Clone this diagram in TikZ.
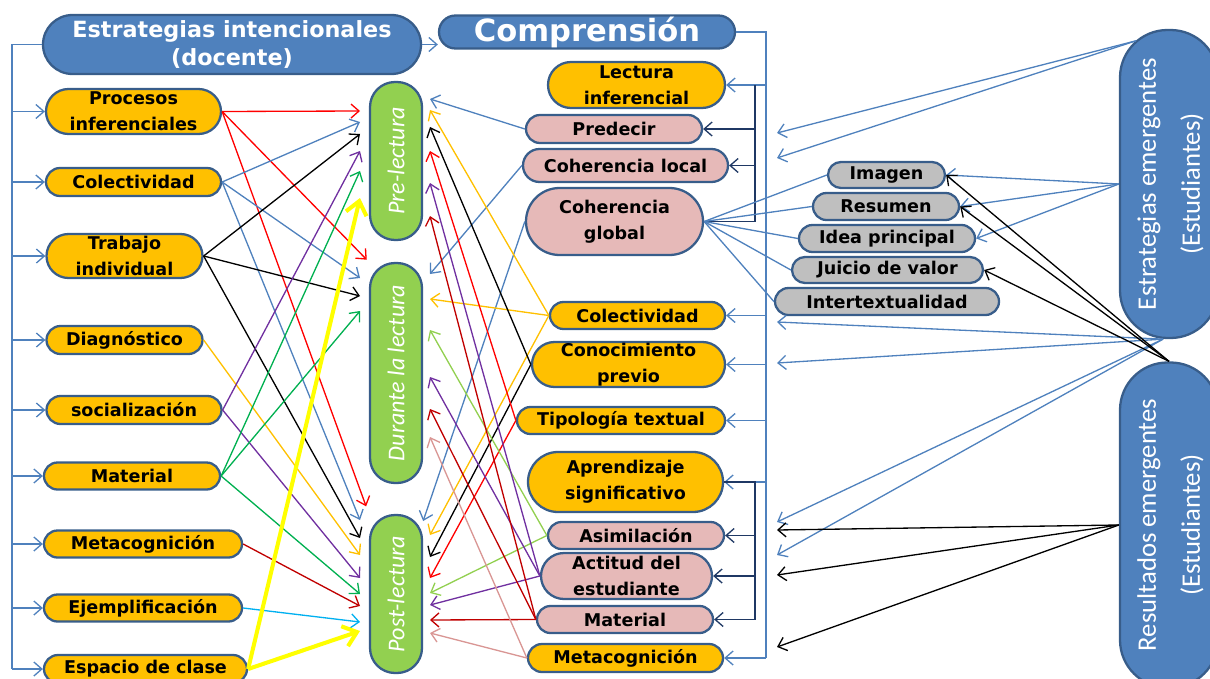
\documentclass[tikz,border=0pt]{standalone}
\usepackage{fontspec}
\setmainfont{DejaVu Sans}
\newfontfamily\carl{Carlito}
\usepackage{graphicx}
\usetikzlibrary{positioning, arrows.meta, shapes.misc, calc}

\definecolor{azul}{HTML}{4F81BD}
\definecolor{borde}{HTML}{385D8A}
\definecolor{amar}{HTML}{FFC000}
\definecolor{rosa}{HTML}{E6B9B8}
\definecolor{gris}{HTML}{BFBFBF}
\definecolor{verde}{HTML}{92D050}
\definecolor{marino}{HTML}{1F3864}
\definecolor{morado}{HTML}{7030A0}
\definecolor{verdeo}{HTML}{00B050}
\definecolor{rojoo}{HTML}{C00000}
\definecolor{celeste}{HTML}{00B0F0}
\definecolor{palo}{HTML}{D99694}
\definecolor{amarillo}{HTML}{FFFF00}

\begin{document}
\begin{tikzpicture}[
    x=0.02cm, y=-0.02cm,
    sz/.style 2 args={minimum width=#1*0.02cm, minimum height=#2*0.02cm},
    pill/.style={rounded rectangle, draw=borde, line width=1.3pt, inner sep=0pt,
      align=center, font=\bfseries\fontsize{10}{14.8}\selectfont},
    yel/.style={pill, fill=amar},
    pnk/.style={pill, fill=rosa},
    gry/.style={pill, fill=gris},
    hdr/.style={pill, fill=azul, text=white},
    fase/.style={draw=borde, line width=1.3pt, fill=verde, rounded corners=0.5cm,
      inner sep=0pt, text=white, font=\carl\itshape\fontsize{13.7}{16}\selectfont},
    emer/.style={draw=borde, line width=1.3pt, fill=azul, rounded corners=0.95cm,
      inner sep=0pt, text=white, font=\carl\fontsize{15.2}{25}\selectfont},
    arr/.style={-{Straight Barb[length=1.6mm,width=2.8mm]}, line width=0.75pt},
    yarr/.style={-{Straight Barb[length=2.6mm,width=4.2mm]}, line width=2.3pt, amarillo},
    bl/.style={azul, line width=0.75pt},
    nav/.style={marino, line width=0.9pt}
  ]
    \useasboundingbox (0,0) rectangle (1210,679);

    % encabezados
    \node[hdr, sz={378}{59}, font=\bfseries\fontsize{12.7}{16.5}\selectfont] (tit) at (232,44.5) {Estrategias intencionales\\(docente)};
    \node[hdr, sz={296}{33}, font=\bfseries\fontsize{17.4}{20}\selectfont] (comp) at (587,32) {Comprensión};

    % estrategias del docente
    \node[yel, sz={175}{45}] (pi) at (133.5,111.5) {Procesos\\inferenciales};
    \node[yel, sz={175}{28}] (col) at (133.5,182) {Colectividad};
    \node[yel, sz={156}{44}] (tra) at (124.5,256) {Trabajo\\individual};
    \node[yel, sz={156}{28}] (dia) at (124.5,340) {Diagnóstico};
    \node[yel, sz={175}{28}] (soc) at (134,410) {socialización};
    \node[yel, sz={176}{27}] (mat) at (132,476) {Material};
    \node[yel, sz={198}{27}] (met) at (143,544) {Metacognición};
    \node[yel, sz={198}{27}] (eje) at (143,608) {Ejemplificación};
    \node[yel, sz={203}{28}] (esp) at (145.5,669) {Espacio de clase};

    % fases
    \node[fase, sz={52}{158}] (pre) at (396,161) {\rotatebox{90}{Pre-lectura}};
    \node[fase, sz={52}{220}] (dur) at (396,373) {\rotatebox{90}{Durante la lectura}};
    \node[fase, sz={52}{158}] (post) at (396,594) {\rotatebox{90}{Post-lectura}};

    % comprension
    \node[yel, sz={177}{46}] (li) at (636.5,85) {Lectura\\inferencial};
    \node[pnk, sz={176}{28}] (pred) at (614,129) {Predecir};
    \node[pnk, sz={205}{33}] (cl) at (625.5,165.5) {Coherencia local};
    \node[pnk, sz={177}{67}] (cg) at (614.5,221.5) {Coherencia\\global};
    \node[yel, sz={175}{27}] (col2) at (637.5,315.5) {Colectividad};
    \node[yel, sz={193}{45}] (con) at (628.5,364.5) {Conocimiento\\previo};
    \node[yel, sz={208}{27}] (tip) at (621,420.5) {Tipología textual};
    \node[yel, sz={195}{60}] (ap) at (625.5,482) {Aprendizaje\\significativo};
    \node[pnk, sz={176}{27}] (asi) at (636,535.5) {Asimilación};
    \node[pnk, sz={171}{46}] (act) at (626.5,576) {Actitud del\\estudiante};
    \node[pnk, sz={176}{27}] (mat2) at (625,619.5) {Material};
    \node[yel, sz={195}{28}] (met2) at (625.5,658) {Metacognición};

    % estrategias de los estudiantes
    \node[gry, sz={117}{26}] (img) at (886.5,175) {Imagen};
    \node[gry, sz={146}{27}] (res) at (886,206.5) {Resumen};
    \node[gry, sz={176}{27}] (idea) at (887,238.5) {Idea principal};
    \node[gry, sz={191}{26}] (jui) at (887.5,270) {Juicio de valor};
    \node[gry, sz={224}{27}] (inter) at (887,301.5) {Intertextualidad};

    \node[emer, sz={98}{308}] (estEm) at (1169,184)
      {\rotatebox{90}{\begin{tabular}{@{}c@{}}Estrategias emergentes\\(Estudiantes)\end{tabular}}};
    \node[emer, sz={98}{325}] (resEm) at (1169,525)
      {\rotatebox{90}{\begin{tabular}{@{}c@{}}Resultados emergentes\\(Estudiantes)\end{tabular}}};

    \coordinate (lr) at (360,0);
    \coordinate (rr) at (430,0);
    \coordinate (rim) at (777,0);
    \coordinate (nb) at (755,0);

    % buses
    \draw[bl] (tit.west) -- ++(-30,0) coordinate (lb) -- (lb |- esp.west);
    \foreach \n in {pi,col,tra,dia,soc,mat,met,eje,esp}
      \draw[bl, arr] (lb |- \n.west) -- (\n.west);
    \draw[bl, arr] (tit.east) -- (comp.west |- tit.east);
    \draw[bl] (comp.east) -- ++(30,0) coordinate (cb) -- (cb |- met2.east);
    \foreach \n in {li,col2,con,tip,ap,met2}
      \draw[bl, arr] (cb |- \n.east) -- (\n.east);
    \draw[nav] (cg.east) -| (nb |- li.east);
    \foreach \n in {pred,cl}
      \draw[nav, arr] (nb |- \n.east) -- (\n.east);
    \draw[nav] (ap.east) -| (nb |- mat2.east);
    \foreach \n in {asi,act,mat2}
      \draw[nav, arr] (nb |- \n.east) -- (\n.east);
    \foreach \n in {img,res,idea,jui,inter}
      \draw[bl] (cg.east) -- (\n.west);

    % docente -> fases
    \draw[arr, red] (pi.east) -- (lr |- 0,111);
    \draw[arr, red, shorten >=0.06cm] (pi.east) -- (dur.north west);
    \draw[arr, red, shorten >=0.16cm] (pi.east) -- (post.north west);
    \foreach \y in {122,278,520} \draw[arr, azul] (col.east) -- (lr |- 0,\y);
    \foreach \y in {134,296,538} \draw[arr, black] (tra.east) -- (lr |- 0,\y);
    \draw[arr, amar] (dia.east) -- (lr |- 0,555);
    \foreach \y in {151,578} \draw[arr, morado] (soc.east) -- (lr |- 0,\y);
    \foreach \y in {171,311,594} \draw[arr, verdeo] (mat.east) -- (lr |- 0,\y);
    \draw[arr, rojoo] (met.east) -- (lr |- 0,606);
    \draw[arr, celeste] (eje.east) -- (lr |- 0,622);
    \foreach \y in {198,631} \draw[yarr] (esp.east) -- (lr |- 0,\y);

    % comprension -> fases
    \draw[arr, azul] (pred.west) -- (rr |- 0,99);
    \draw[arr, azul] (cl.west) -- (rr |- 0,274);
    \draw[arr, azul] (cg.west) -- (post.east |- 0,521);
    \foreach \y in {110,299,535} \draw[arr, amar] (col2.west) -- (rr |- 0,\y);
    \foreach \y in {127,557} \draw[arr, black] (con.west) -- (rr |- 0,\y);
    \foreach \y in {151,578} \draw[arr, red] (tip.west) -- (rr |- 0,\y);
    \foreach \y in {330,593} \draw[arr, verde] (asi.west) -- (rr |- 0,\y);
    \foreach \y in {183,377,605} \draw[arr, morado] (act.west) -- (rr |- 0,\y);
    \foreach \y in {216,409,620} \draw[arr, rojoo] (mat2.west) -- (rr |- 0,\y);
    \foreach \y in {437,633} \draw[arr, palo] (met2.west) -- (rr |- 0,\y);

    % emergentes
    \foreach \y in {133,158} \draw[arr, azul] ([shift={(17,12)}]estEm.north west) -- (rim |- 0,\y);
    \foreach \n in {img,res,idea} \draw[arr, azul] (estEm.west) -- (\n.east);
    \foreach \y in {322,363,522,555} \draw[arr, azul] ([shift={(-6,0)}]estEm.south) -- (rim |- 0,\y);
    \foreach \n in {img,res,jui} \draw[arr, black] (resEm.north) -- (\n.east);
    \foreach \y in {530,575,647} \draw[arr, black] (resEm.west) -- (rim |- 0,\y);
\end{tikzpicture}
\end{document}
